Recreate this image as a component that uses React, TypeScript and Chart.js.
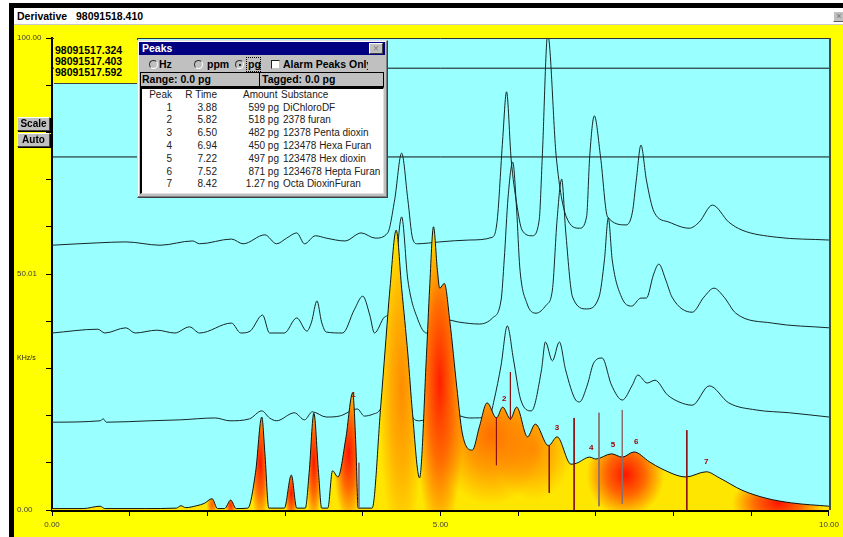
import React, { useEffect, useRef } from 'react';
import { Chart, registerables } from 'chart.js';
Chart.register(...registerables);

// ---------- data (retention time in min, response value) ----------
const FILLED_TRACE: number[][] = [
  [0, 0.3], [0.4, 0.3], [0.62, 0.8], [0.68, 0.3], [1.2, 0.3], [1.6, 0.4], [1.66, 0.9], [1.72, 0.5], [1.86, 0.9], [1.96, 1.4],
  [2.06, 2.4], [2.13, 0.3], [2.22, 0.3], [2.3, 2.1], [2.37, 0.3], [2.52, 0.4], [2.62, 8], [2.7, 19.7], [2.74, 12], [2.79, 0.4],
  [2.99, 0.4], [3.08, 7.4], [3.15, 0.4], [3.26, 0.4], [3.31, 8], [3.37, 20.5], [3.43, 8], [3.47, 0.4], [3.55, 0.4], [3.61, 8.3],
  [3.68, 7.0], [3.78, 15], [3.87, 24.8], [3.91, 14], [3.94, 0.4], [4.12, 0.4], [4.23, 21.8], [4.29, 34.5], [4.35, 47], [4.43, 59.3],
  [4.5, 47], [4.58, 33], [4.64, 20.5], [4.73, 6.8], [4.82, 33], [4.86, 47], [4.91, 60], [4.96, 50.8], [4.99, 47], [5.05, 48],
  [5.12, 40], [5.21, 26], [5.28, 16.3], [5.41, 12.7], [5.5, 17.6], [5.6, 22.7], [5.72, 19.5], [5.8, 21.8], [5.9, 19.3], [5.98, 21.8],
  [6.12, 15.5], [6.22, 18.2], [6.39, 13.6], [6.5, 15.5], [6.68, 9.7], [6.75, 9.9], [6.92, 11.2], [7.0, 10.8], [7.2, 11.9], [7.34, 11.2],
  [7.49, 12.3], [7.69, 10.2], [7.85, 8.7], [8.16, 7.0], [8.42, 8.1], [8.59, 6.8], [8.88, 4.2], [9.19, 2.5], [9.52, 1.5], [10.0, 0.8],
];

const TRACE_A: number[][] = [
  [0, 18.6], [0.62, 18.9], [0.66, 19.3], [0.7, 18.6], [1.26, 18.9], [1.65, 19.1], [2.1, 19.5], [2.29, 18.9], [2.54, 19.3], [2.7, 21.0],
  [2.8, 19.5], [2.89, 18.9], [3.12, 20.6], [3.25, 19.1], [3.35, 20.8], [3.53, 19.7], [3.7, 19.9], [3.93, 21.4], [4.02, 19.9], [4.13, 20.3],
  [4.22, 21.2], [4.37, 27.5], [4.51, 31.8], [4.6, 21.2], [4.73, 18.9], [4.99, 20.6], [5.21, 20.1], [5.37, 19.5], [5.63, 19.7], [5.69, 23.3],
  [5.78, 30.7], [5.86, 39.0], [5.94, 31.8], [6.03, 23.5], [6.17, 21.0], [6.3, 29.7], [6.35, 35.6], [6.44, 31.6], [6.53, 35.6], [6.61, 29.7],
  [6.74, 23.3], [6.79, 22.9], [6.89, 26.5], [6.97, 31.1], [7.08, 32.2], [7.2, 26.5], [7.34, 23.3], [7.47, 26.5], [7.54, 28.6], [7.66, 26.9],
  [7.76, 27.5], [7.92, 24.4], [8.07, 22.9], [8.24, 22.2], [8.46, 26.3], [8.71, 22.7], [9.06, 21.2], [9.49, 20.6], [10.0, 19.7],
];

const TRACE_B: number[][] = [
  [0, 37.5], [0.59, 38.3], [0.68, 37.5], [0.95, 38.6], [1.07, 37.5], [1.35, 38.1], [1.58, 37.5], [1.77, 38.8], [1.9, 37.5], [2.31, 39.6],
  [2.43, 37.5], [2.55, 37.9], [2.71, 41.3], [2.8, 37.5], [2.99, 37.5], [3.15, 40.7], [3.28, 37.9], [3.34, 39.8], [3.41, 44.3], [3.47, 39.8],
  [3.53, 37.7], [3.74, 37.5], [3.89, 42.4], [4.0, 45.3], [4.09, 41.3], [4.15, 37.5], [4.28, 40.9], [4.34, 41.7], [4.41, 48.7], [4.5, 62.1],
  [4.58, 48.7], [4.71, 40.3], [4.82, 37.5], [5.08, 40.3], [5.24, 39.8], [5.5, 39.4], [5.67, 40.7], [5.78, 44.5], [5.82, 53.0], [5.87, 66.3],
  [5.93, 73.7], [5.98, 63.6], [6.02, 51.5], [6.11, 43.9], [6.23, 41.7], [6.36, 43.4], [6.44, 46.6], [6.5, 61.4], [6.56, 70.1], [6.61, 59.3],
  [6.7, 45.1], [6.88, 42.6], [7.04, 45.1], [7.11, 53.0], [7.16, 61.9], [7.21, 53.0], [7.33, 45.1], [7.46, 43.2], [7.58, 44.9], [7.65, 44.9],
  [7.74, 49.8], [7.81, 52.1], [7.9, 48.7], [7.98, 45.1], [8.24, 41.9], [8.39, 45.1], [8.52, 47.0], [8.65, 45.1], [8.8, 41.7], [9.27, 39.6],
  [10.0, 38.6],
];

const TRACE_C: number[][] = [
  [0, 56.1], [0.59, 56.6], [0.95, 56.8], [1.39, 56.1], [1.81, 57.0], [1.9, 56.4], [2.31, 57.4], [2.46, 56.4], [2.74, 58.3], [2.89, 56.4],
  [3.02, 57.6], [3.15, 58.7], [3.25, 56.4], [3.39, 58.1], [3.53, 57.6], [3.77, 57.0], [3.98, 58.7], [4.16, 57.6], [4.32, 58.7], [4.41, 65.7],
  [4.5, 75.6], [4.58, 65.7], [4.64, 57.6], [4.7, 56.4], [4.99, 56.8], [5.37, 57.2], [5.67, 57.8], [5.73, 61.4], [5.8, 78.4], [5.85, 88.6],
  [5.91, 74.2], [5.98, 65.0], [6.05, 59.3], [6.18, 58.1], [6.27, 61.4], [6.31, 74.8], [6.38, 100.8], [6.49, 74.8], [6.62, 62.1], [6.79, 59.7],
  [6.88, 62.1], [6.92, 74.8], [6.98, 83.5], [7.06, 74.8], [7.15, 62.1], [7.39, 60.4], [7.47, 63.1], [7.52, 69.9], [7.58, 77.3], [7.65, 69.9],
  [7.75, 63.1], [7.94, 61.0], [8.2, 59.7], [8.33, 61.0], [8.5, 64.6], [8.71, 61.0], [8.88, 59.3], [9.32, 57.8], [10.0, 57.2],
];

const FLAT_TRACE_D: number[][] = [[0, 74.8], [10, 74.8]];
const FLAT_TRACE_E: number[][] = [[0, 93.6], [10, 93.6]];

// peak markers: [time, top, bottom]
const MARKERS_RED: number[][] = [
  [5.72, 19.7, 9.5], [5.9, 29.2, 19.1], [6.4, 13.8, 3.6], [6.72, 19.5, 0], [8.17, 16.9, 0],
];
const MARKERS_GREY: number[][] = [
  [3.95, 10.0, 0.4], [7.04, 20.6, 0.8], [7.34, 21.2, 1.3],
];

// peak table
const PEAK_IDS = ['1', '2', '3', '4', '5', '6', '7'];
const R_TIMES = [3.88, 5.82, 6.5, 6.94, 7.22, 7.52, 8.42];
const AMOUNTS = ['599 pg', '518 pg', '482 pg', '450 pg', '497 pg', '871 pg', '1.27 ng'];
const SUBSTANCES = ['DiChloroDF', '2378 furan', '12378 Penta dioxin', '123478 Hexa Furan', '123478 Hex dioxin', '1234678 Hepta Furan', 'Octa DioxinFuran'];
const PEAK_LABEL_V = [24.5, 23.5, 17.4, 13.1, 13.8, 14.4, 10.2];

const FILE_NAMES = ['98091517.324', '98091517.403', '98091517.592'];
const X_LABELS: Record<number, string> = { 0: '0.00', 5: '5.00', 10: '10.00' };
const Y_LABELS: Record<number, string> = { 0: '0.00', 50: '50.01', 100: '100.00' };

// ---------- styling ----------
const CYAN = '#99ffff';
const YELLOW = '#ffff00';
const FONT = '"Liberation Sans", Arial, sans-serif';
const NARROW = '"Liberation Sans Narrow", "Liberation Sans", Arial, sans-serif';

// heat spots of the filled trace: centre (t, v), radii (rt, rv), colour, alpha
const HOTSPOTS = [
  { t: 2.06, v: 1.2, rt: 0.07, rv: 2.5, c: [255, 60, 0], a: 0.8 },
  { t: 2.3, v: 1.0, rt: 0.07, rv: 2.5, c: [255, 20, 0], a: 0.9 },
  { t: 2.68, v: 10, rt: 0.13, rv: 13, c: [255, 20, 0], a: 1 },
  { t: 3.08, v: 3.5, rt: 0.09, rv: 6, c: [255, 20, 0], a: 1 },
  { t: 3.37, v: 10, rt: 0.11, rv: 13, c: [255, 20, 0], a: 1 },
  { t: 3.82, v: 12, rt: 0.2, rv: 15, c: [255, 20, 0], a: 1 },
  { t: 4.5, v: 26, rt: 0.3, rv: 34, c: [255, 110, 0], a: 0.75 },
  { t: 4.99, v: 27, rt: 0.33, rv: 34, c: [255, 30, 0], a: 1 },
  { t: 5.65, v: 16, rt: 0.7, rv: 15, c: [255, 80, 0], a: 0.8 },
  { t: 6.2, v: 13, rt: 0.5, rv: 11, c: [255, 110, 0], a: 0.7 },
  { t: 7.38, v: 7.5, rt: 0.5, rv: 9, c: [255, 20, 0], a: 1 },
  { t: 9.35, v: 1.5, rt: 0.6, rv: 6, c: [255, 20, 0], a: 1 },
];

const toXY = (pts: number[][]) => pts.map((p) => ({ x: p[0], y: p[1] }));
const markerXY = (m: number[][]) => {
  const out: any[] = [];
  m.forEach((r) => {
    out.push({ x: r[0], y: r[1] }, { x: r[0], y: r[2] }, { x: r[0], y: null });
  });
  return out;
};

let patternCache: { key: string; pat: any } | null = null;
function heatFill(chart: any) {
  const area = chart.chartArea;
  const xs = chart.scales && chart.scales.x;
  const ys = chart.scales && chart.scales.y;
  if (!area || !xs || !ys) return '#ffa000';
  const key = `${chart.width}x${chart.height}:${area.left},${area.top},${area.right},${area.bottom}`;
  if (patternCache && patternCache.key === key) return patternCache.pat;
  const c = document.createElement('canvas');
  c.width = chart.width;
  c.height = chart.height;
  const g = c.getContext('2d')!;
  g.fillStyle = '#ffe600';
  g.fillRect(0, 0, c.width, c.height);
  for (const h of HOTSPOTS) {
    const cx = xs.getPixelForValue(h.t);
    const cy = ys.getPixelForValue(h.v);
    const rx = Math.abs(xs.getPixelForValue(h.t + h.rt) - cx);
    const ry = Math.abs(ys.getPixelForValue(h.v + h.rv) - cy);
    const [r, gg, b] = h.c;
    g.save();
    g.translate(cx, cy);
    g.scale(rx, ry);
    const rg = g.createRadialGradient(0, 0, 0, 0, 0, 1);
    rg.addColorStop(0, `rgba(${r},${gg},${b},${h.a})`);
    rg.addColorStop(0.5, `rgba(${r},${gg},${b},${h.a * 0.6})`);
    rg.addColorStop(1, `rgba(${r},${gg},${b},0)`);
    g.fillStyle = rg;
    g.fillRect(-1, -1, 2, 2);
    g.restore();
  }
  const pat = chart.ctx.createPattern(c, 'no-repeat');
  patternCache = { key, pat };
  return pat;
}

const framePlugin = {
  id: 'frame',
  beforeDraw(chart: any) {
    const { ctx, chartArea: a } = chart;
    ctx.save();
    ctx.fillStyle = CYAN;
    ctx.fillRect(a.left, a.top, a.right - a.left, a.bottom - a.top);
    ctx.restore();
  },
  afterDatasetsDraw(chart: any) {
    const { ctx, chartArea: a, scales } = chart;
    ctx.save();
    ctx.strokeStyle = '#303030';
    ctx.lineWidth = 1;
    ctx.beginPath();
    ctx.moveTo(a.left, a.top + 0.5);
    ctx.lineTo(a.right, a.top + 0.5);
    ctx.stroke();
    ctx.strokeStyle = '#4a4a30';
    ctx.lineWidth = 2;
    ctx.beginPath();
    ctx.moveTo(a.right + 1, a.top);
    ctx.lineTo(a.right + 1, a.bottom);
    ctx.stroke();
    // peak numbers
    ctx.fillStyle = '#a00000';
    ctx.font = `bold 8px ${FONT}`;
    ctx.textAlign = 'center';
    ctx.textBaseline = 'middle';
    PEAK_IDS.forEach((id, i) => {
      ctx.fillText(id, scales.x.getPixelForValue(R_TIMES[i]), scales.y.getPixelForValue(PEAK_LABEL_V[i]));
    });
    ctx.restore();
  },
};

const ChromChart: React.FC = () => {
  const ref = useRef<HTMLCanvasElement | null>(null);
  useEffect(() => {
    if (!ref.current) return;
    patternCache = null;
    const lineBase = {
      pointRadius: 0,
      borderWidth: 1,
      borderColor: '#152828',
      fill: false,
      cubicInterpolationMode: 'monotone' as const,
    };
    const chart = new Chart(ref.current, {
      type: 'line',
      data: {
        datasets: [
          { ...lineBase, data: markerXY(MARKERS_RED), borderColor: '#8b1010', cubicInterpolationMode: 'default', tension: 0, spanGaps: false },
          { ...lineBase, data: markerXY(MARKERS_GREY), borderColor: '#8a7070', cubicInterpolationMode: 'default', tension: 0, spanGaps: false },
          { ...lineBase, data: toXY(FILLED_TRACE), fill: 'origin', borderColor: '#101010', backgroundColor: (c: any) => heatFill(c.chart) },
          { ...lineBase, data: toXY(TRACE_A) },
          { ...lineBase, data: toXY(TRACE_B) },
          { ...lineBase, data: toXY(TRACE_C) },
          { ...lineBase, data: toXY(FLAT_TRACE_D), borderColor: '#101010' },
          { ...lineBase, data: toXY(FLAT_TRACE_E), borderColor: '#101010' },
        ] as any,
      },
      options: {
        responsive: false,
        animation: false,
        events: [],
        layout: { padding: { left: 3, top: 13, right: 13, bottom: 0 } },
        plugins: { legend: { display: false }, tooltip: { enabled: false } },
        scales: {
          x: {
            type: 'linear',
            min: 0,
            max: 10,
            z: 1,
            afterFit: (s: any) => { s.height = 27; },
            border: { display: true, color: '#000', width: 3 },
            grid: { drawOnChartArea: false, drawTicks: true, tickLength: 6, color: '#000', tickColor: '#000' },
            ticks: {
              stepSize: 1,
              autoSkip: false,
              maxRotation: 0,
              padding: 4,
              color: '#404040',
              font: { size: 8, family: FONT },
              callback: (v: any) => X_LABELS[Number(v)] ?? '',
            },
          },
          y: {
            type: 'linear',
            min: 0,
            max: 100,
            z: 1,
            afterFit: (s: any) => { s.width = 35; },
            border: { display: true, color: '#000', width: 2 },
            grid: { drawOnChartArea: false, drawTicks: true, tickLength: 6, color: '#000', tickColor: '#000' },
            ticks: {
              stepSize: 10,
              autoSkip: false,
              crossAlign: 'far',
              color: '#404040',
              font: { size: 8, family: FONT },
              callback: (v: any) => Y_LABELS[Number(v)] ?? '',
            },
          },
        },
      } as any,
      plugins: [framePlugin],
    });
    return () => chart.destroy();
  }, []);
  return <canvas ref={ref} width={829} height={512} style={{ position: 'absolute', left: 14, top: 25, width: 829, height: 512 }} />;
};

const box = (l: number, t: number, w: number, h: number, extra: React.CSSProperties = {}): React.CSSProperties => ({
  position: 'absolute', left: l, top: t, width: w, height: h, boxSizing: 'border-box', ...extra,
});

const Radio: React.FC<{ x: number; on?: boolean }> = ({ x, on }) => (
  <div style={box(x, 60, 9, 9, { borderRadius: '50%', border: '1px solid', borderColor: '#303030 #ffffff #ffffff #303030', background: '#c0c0c0' })}>
    {on && <div style={box(2.5, 2.5, 2.5, 2.5, { borderRadius: '50%', background: '#000' })} />}
  </div>
);

const App: React.FC = () => {
  const bold: React.CSSProperties = { fontFamily: FONT, fontWeight: 'bold', fontSize: 10.5, color: '#000', whiteSpace: 'nowrap' };
  const cell: React.CSSProperties = { fontFamily: NARROW, fontSize: 10, color: '#202020', lineHeight: '12px', whiteSpace: 'nowrap' };
  const rowY = [107.5, 120.3, 133.1, 145.9, 158.7, 171.5, 184.3];
  return (
    <div style={{ position: 'fixed', left: 0, top: 0, width: 843, height: 537, background: '#fff', overflow: 'hidden', fontFamily: FONT }}>
      <div style={box(9, 3, 834, 5, { background: '#000' })} />
      <div style={box(9, 3, 5, 534, { background: '#000' })} />
      <div style={box(14, 8, 829, 17, { background: '#fff', borderBottom: '1px solid #c8c8c8' })}>
        <div style={{ ...bold, position: 'absolute', left: 3, top: 2, lineHeight: '13px' }}>Derivative&nbsp;&nbsp;&nbsp;98091518.410</div>
      </div>
      <div style={box(833, 11, 12, 11, { background: '#c0c0c0', border: '1px solid', borderColor: '#fff #606060 #606060 #fff', fontSize: 9, lineHeight: '8px', color: '#707070', textAlign: 'center' })}>×</div>
      <div style={box(14, 25, 829, 512, { background: YELLOW })} />
      <ChromChart />

      {/* file names box */}
      <div style={box(54, 38, 84, 46, { background: YELLOW, borderRight: '1px solid #404040', borderBottom: '1px solid #404040' })}>
        {FILE_NAMES.map((f, i) => (
          <div key={f} style={{ ...bold, position: 'absolute', left: 1, top: 7 + i * 11, lineHeight: '11px' }}>{f}</div>
        ))}
      </div>

      {/* y unit */}
      <div style={{ position: 'absolute', left: 17, top: 354, fontSize: 7, lineHeight: '8px', color: '#202020', fontFamily: FONT }}>KHz/s</div>

      {/* Scale / Auto buttons */}
      {['Scale', 'Auto'].map((b, i) => (
        <div key={b} style={box(17, 117 + i * 16, 33, 14, { background: '#c0c0c0', border: '1px solid', borderColor: '#ffffff #404040 #404040 #ffffff', boxShadow: '1px 1px 0 #000', ...bold, fontSize: 10, textAlign: 'center', lineHeight: '12px' })}>{b}</div>
      ))}

      {/* Peaks dialog */}
      <div style={box(137, 40, 251, 158, { background: '#c0c0c0', border: '1px solid', borderColor: '#dfdfdf #404040 #404040 #dfdfdf', boxShadow: 'inset -1px -1px #808080, inset 1px 1px #ffffff' })} />
      <div style={box(139, 42, 246, 13, { background: '#000080' })}>
        <div style={{ ...bold, color: '#fff', position: 'absolute', left: 3, top: 0, lineHeight: '13px' }}>Peaks</div>
      </div>
      <div style={box(369, 43, 14, 11, { background: '#c0c0c0', border: '1px solid', borderColor: '#fff #404040 #404040 #fff', color: '#808080', fontSize: 10, lineHeight: '9px', textAlign: 'center', fontFamily: FONT })}>×</div>

      <Radio x={149} />
      <div style={{ ...bold, position: 'absolute', left: 159, top: 58, lineHeight: '12px' }}>Hz</div>
      <Radio x={194} />
      <div style={{ ...bold, position: 'absolute', left: 207, top: 58, lineHeight: '12px' }}>ppm</div>
      <Radio x={235} on />
      <div style={box(246, 57, 15, 15, { border: '1px dotted #000' })} />
      <div style={{ ...bold, position: 'absolute', left: 248, top: 58, lineHeight: '12px' }}>pg</div>
      <div style={box(271, 60, 9, 9, { background: '#fff', border: '1px solid', borderColor: '#202020 #c0c0c0 #c0c0c0 #202020' })} />
      <div style={{ ...bold, position: 'absolute', left: 283, top: 58, lineHeight: '12px', width: 85, overflow: 'hidden' }}>Alarm Peaks Only</div>

      <div style={box(140, 72, 244, 15, { border: '1px solid #000', background: '#c0c0c0' })} />
      <div style={box(259, 72, 1, 15, { background: '#000' })} />
      <div style={{ ...bold, position: 'absolute', left: 142, top: 73, lineHeight: '13px' }}>Range: 0.0 pg</div>
      <div style={{ ...bold, position: 'absolute', left: 262, top: 73, lineHeight: '13px' }}>Tagged: 0.0 pg</div>

      <div style={box(140, 87, 244, 107, { background: '#fff', borderTop: '2px solid #000', borderLeft: '2px solid #000', borderRight: '1px solid #dfdfdf', borderBottom: '1px solid #dfdfdf' })} />
      <div style={{ ...cell, position: 'absolute', left: 140, width: 32, textAlign: 'right', top: 89 }}>Peak</div>
      <div style={{ ...cell, position: 'absolute', left: 180, width: 37, textAlign: 'right', top: 89 }}>R Time</div>
      <div style={{ ...cell, position: 'absolute', left: 243, top: 89 }}>Amount</div>
      <div style={{ ...cell, position: 'absolute', left: 281, top: 89 }}>Substance</div>
      {PEAK_IDS.map((p, i) => (
        <React.Fragment key={p}>
          <div style={{ ...cell, position: 'absolute', left: 140, width: 32, textAlign: 'right', top: rowY[i] - 6 }}>{p}</div>
          <div style={{ ...cell, position: 'absolute', left: 180, width: 37, textAlign: 'right', top: rowY[i] - 6 }}>{R_TIMES[i].toFixed(2)}</div>
          <div style={{ ...cell, position: 'absolute', left: 230, width: 49, textAlign: 'right', top: rowY[i] - 6 }}>{AMOUNTS[i]}</div>
          <div style={{ ...cell, position: 'absolute', left: 283, top: rowY[i] - 6 }}>{SUBSTANCES[i]}</div>
        </React.Fragment>
      ))}
    </div>
  );
};

export default App;
